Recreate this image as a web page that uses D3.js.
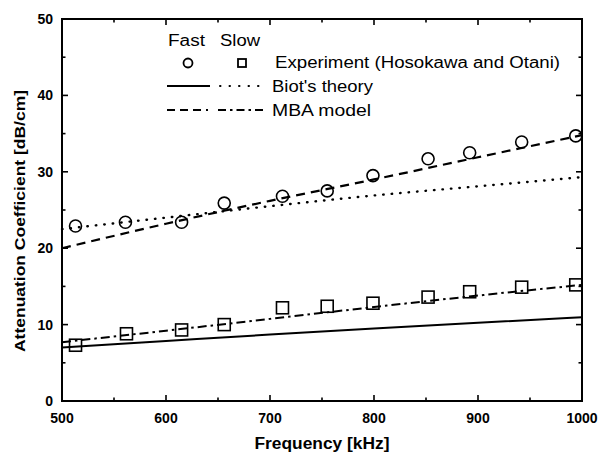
<!DOCTYPE html>
<html><head><meta charset="utf-8">
<script src="https://cdn.jsdelivr.net/npm/d3@7/dist/d3.min.js"></script>
<style>body{margin:0;background:#fff}svg{display:block}text{font-family:"Liberation Sans",Arial,sans-serif;fill:#000}</style>
</head><body><svg id="c" width="600" height="459"></svg>
<script>
// Data
const fastFreq = [513, 561, 615, 656, 712, 755, 799, 852, 892, 942, 994];
const fastExp  = [22.9, 23.4, 23.4, 25.9, 26.8, 27.5, 29.5, 31.7, 32.5, 33.9, 34.7];
const slowFreq = [513, 562, 615, 656, 712, 755, 799, 852, 892, 942, 994];
const slowExp  = [7.3, 8.8, 9.3, 10.0, 12.2, 12.4, 12.8, 13.6, 14.3, 14.9, 15.2];
const lineFreq = [500, 600, 700, 800, 900, 1000];
const biotFast = [22.5, 24.0, 25.5, 26.9, 28.1, 29.3];
const mbaFast  = [20.0, 23.2, 26.2, 29.0, 31.9, 34.8];
const biotSlow = [7.0, 7.85, 8.7, 9.5, 10.25, 10.95];
const mbaSlow  = [7.7, 9.2, 10.75, 12.3, 13.8, 15.2];
const xTicks = [500, 600, 700, 800, 900, 1000];
const yTicks = [0, 10, 20, 30, 40, 50];
const xTitle = "Frequency [kHz]";
const yTitle = "Attenuation Coefficient [dB/cm]";
const legendRows = ["Experiment (Hosokawa and Otani)", "Biot's theory", "MBA model"];
const legendHead = ["Fast", "Slow"];

const svg = d3.select("#c");
const L = 62, R = 582, T = 19, B = 401;
const x = d3.scaleLinear().domain([500, 1000]).range([L, R]);
const y = d3.scaleLinear().domain([0, 50]).range([B, T]);

// ticks
const g = svg.append("g");
const minorX = d3.range(550, 1000, 100);
const minorY = d3.range(5, 50, 10);
function tk(x1,y1,x2,y2){g.append("line").attr("x1",x1).attr("y1",y1).attr("x2",x2).attr("y2",y2).attr("stroke","#000").attr("stroke-width",1.6);}
xTicks.forEach(v=>{tk(x(v),B,x(v),B-6);tk(x(v),T,x(v),T+6);});
minorX.forEach(v=>{tk(x(v),B,x(v),B-3.5);tk(x(v),T,x(v),T+3.5);});
yTicks.forEach(v=>{tk(L,y(v),L+6,y(v));tk(R,y(v),R-6,y(v));});
minorY.forEach(v=>{tk(L,y(v),L+3.5,y(v));tk(R,y(v),R-3.5,y(v));});
g.append("rect").attr("x",L).attr("y",T).attr("width",R-L).attr("height",B-T).attr("fill","none").attr("stroke","#000").attr("stroke-width",2);

xTicks.forEach(v=>svg.append("text").attr("x",x(v)).attr("y",B+22).attr("text-anchor","middle").attr("font-size",14).attr("font-weight","bold").text(v));
yTicks.forEach(v=>svg.append("text").attr("x",L-9).attr("y",y(v)+5).attr("text-anchor","end").attr("font-size",14).attr("font-weight","bold").text(v));
svg.append("text").attr("x",(L+R)/2-0).attr("y",449).attr("text-anchor","middle").attr("font-size",16).attr("font-weight","bold")
  .attr("textLength",135).attr("lengthAdjust","spacingAndGlyphs").text(xTitle);
svg.append("text").attr("transform",`translate(25,221) rotate(-90)`).attr("text-anchor","middle").attr("font-size",15.5).attr("font-weight","bold")
  .attr("textLength",262).attr("lengthAdjust","spacingAndGlyphs").text(yTitle);

const line = d3.line().x(d=>x(d[0])).y(d=>y(d[1])).curve(d3.curveMonotoneX);
function drawLine(vals, dash, w, cap){
  svg.append("path").datum(lineFreq.map((f,i)=>[f,vals[i]])).attr("d",line).attr("fill","none")
    .attr("stroke","#000").attr("stroke-width",w).attr("stroke-dasharray",dash).attr("stroke-linecap", cap||"butt");
}
drawLine(biotFast, "0.5,8", 2.4, "round");
drawLine(mbaFast, "9,6", 2.2);
drawLine(biotSlow, null, 2);
drawLine(mbaSlow, "9,4,2.5,4", 2);

svg.selectAll("circle.f").data(fastFreq.map((f,i)=>[f,fastExp[i]])).join("circle")
  .attr("cx",d=>x(d[0])).attr("cy",d=>y(d[1])).attr("r",6).attr("fill","none").attr("stroke","#000").attr("stroke-width",1.6);
svg.selectAll("rect.s").data(slowFreq.map((f,i)=>[f,slowExp[i]])).join("rect")
  .attr("x",d=>x(d[0])-6).attr("y",d=>y(d[1])-6).attr("width",12).attr("height",12).attr("fill","none").attr("stroke","#000").attr("stroke-width",1.6);

// legend
svg.append("text").attr("x",168).attr("y",46).attr("font-size",16).attr("textLength",37).attr("lengthAdjust","spacingAndGlyphs").text(legendHead[0]);
svg.append("text").attr("x",220).attr("y",46).attr("font-size",16).attr("textLength",40).attr("lengthAdjust","spacingAndGlyphs").text(legendHead[1]);
svg.append("circle").attr("cx",188).attr("cy",63).attr("r",4.5).attr("fill","none").attr("stroke","#000").attr("stroke-width",1.8);
svg.append("rect").attr("x",238).attr("y",59).attr("width",8).attr("height",8).attr("fill","none").attr("stroke","#000").attr("stroke-width",1.8);
const ly = [68, 92, 116], lx = [275, 272, 272], lw = [285, 101, 99];
legendRows.forEach((t,i)=>svg.append("text").attr("x",lx[i]).attr("y",ly[i]).attr("font-size",16)
  .attr("textLength",lw[i]).attr("lengthAdjust","spacingAndGlyphs").text(t));
function lseg(x1,x2,yy,dash,lc){svg.append("line").attr("x1",x1).attr("x2",x2).attr("y1",yy).attr("y2",yy).attr("stroke","#000").attr("stroke-width",2).attr("stroke-dasharray",dash).attr("stroke-linecap",lc||"butt");}
lseg(167,210,86,null);
lseg(220,267,86,"0.5,9","round");
lseg(167,208,110,"8,5");
lseg(218,266,110,"8,4,2.5,4");
</script></body></html>
